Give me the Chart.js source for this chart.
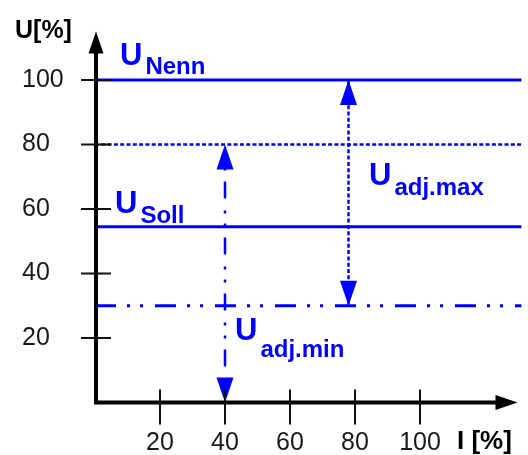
<!DOCTYPE html>
<html>
<head>
<meta charset="utf-8">
<script src="https://cdn.jsdelivr.net/npm/chart.js"></script>
<style>
  html, body { margin: 0; padding: 0; background: #fff; }
  #wrap { width: 528px; height: 455px; }
</style>
</head>
<body>
<div id="wrap"><canvas id="chart" width="528" height="455"></canvas></div>
<script>
// Achsen
const xTicks = [20, 40, 60, 80, 100];
const yTicks = [20, 40, 60, 80, 100];
const xMax = 130;
const yMax = 115;
const lineEnd = 131.2;

// waagerechte Linien: U_Nenn, obere Grenze, U_Soll, untere Grenze
const levelNames = ['Nenn', 'max', 'Soll', 'min'];
const levelValues = [100, 80, 54.5, 30];

// senkrechte Pfeile (U_adj.min, U_adj.max)
const spanNames = ['adj.min', 'adj.max'];
const spanX = [40, 78];
const spanTop = [80, 100];
const spanBottom = [0, 30];

const BLUE = '#0000ff';
const FONT = '"Liberation Sans", Arial, sans-serif';

const DOTTED = [4, 2.3];
const DASHDOT = [21, 11, 3, 10, 3, 12];
const DASHDOT_V = [17, 12, 3, 10, 3, 11];

// Linienstile pro Niveau
const levelStyle = [
    { dash: [], width: 3 },
    { dash: DOTTED, width: 2.5 },
    { dash: [], width: 3 },
    { dash: DASHDOT, width: 3 }
];
const spanStyle = [
    { dash: DASHDOT_V, width: 2.5, offset: 19 },
    { dash: DOTTED, width: 2.5, offset: 0 }
];

function buildDatasets() {
    const sets = [];
    levelValues.forEach((v, i) => {
        sets.push({
            label: levelNames[i],
            data: [{ x: 0, y: v }, { x: lineEnd, y: v }],
            borderColor: BLUE,
            borderWidth: levelStyle[i].width,
            borderDash: levelStyle[i].dash,
            pointRadius: 0,
            clip: false
        });
    });
    spanX.forEach((x, i) => {
        sets.push({
            label: spanNames[i],
            data: [{ x: x, y: spanTop[i] }, { x: x, y: spanBottom[i] }],
            borderColor: BLUE,
            borderWidth: spanStyle[i].width,
            borderDash: spanStyle[i].dash,
            borderDashOffset: spanStyle[i].offset,
            pointRadius: 0,
            clip: false
        });
    });
    return sets;
}

function arrowHead(ctx, x, y, dir, len, half, color) {
    // dir: 'up' | 'down' | 'right'
    ctx.save();
    ctx.fillStyle = color;
    ctx.setLineDash([]);
    ctx.beginPath();
    if (dir === 'up') {
        ctx.moveTo(x, y);
        ctx.lineTo(x - half, y + len);
        ctx.lineTo(x + half, y + len);
    } else if (dir === 'down') {
        ctx.moveTo(x, y);
        ctx.lineTo(x - half, y - len);
        ctx.lineTo(x + half, y - len);
    } else {
        ctx.moveTo(x, y);
        ctx.lineTo(x - len, y - half);
        ctx.lineTo(x - len, y + half);
    }
    ctx.closePath();
    ctx.fill();
    ctx.restore();
}

function subLabel(ctx, main, sub, x, y, subY) {
    ctx.font = 'bold 31px ' + FONT;
    ctx.fillText(main, x, y);
    const w = ctx.measureText(main).width;
    ctx.font = 'bold 24px ' + FONT;
    ctx.fillText(sub, x + w + 3, subY);
}

const axisPlugin = {
    id: 'axisPlugin',
    afterDatasetsDraw(chart) {
        const ctx = chart.ctx;
        const xs = chart.scales.x;
        const ys = chart.scales.y;
        const x0 = xs.getPixelForValue(0) + 1;
        const y0 = ys.getPixelForValue(0);
        const xEnd = xs.getPixelForValue(xMax);
        const yEnd = ys.getPixelForValue(yMax);

        ctx.save();
        // Pfeilspitzen der senkrechten Linien
        spanX.forEach((v, i) => {
            const px = xs.getPixelForValue(v);
            arrowHead(ctx, px, ys.getPixelForValue(spanTop[i]), 'up', 25, 8.5, BLUE);
            arrowHead(ctx, px, ys.getPixelForValue(spanBottom[i]), 'down', 25, 8.5, BLUE);
        });

        // Achsen
        ctx.strokeStyle = '#000';
        ctx.lineWidth = 4;
        ctx.lineJoin = 'miter';
        ctx.setLineDash([]);
        ctx.beginPath();
        ctx.moveTo(x0, yEnd + 20);
        ctx.lineTo(x0, y0);
        ctx.lineTo(xEnd - 20, y0);
        ctx.stroke();
        arrowHead(ctx, x0, yEnd, 'up', 22, 7.5, '#000');
        arrowHead(ctx, xEnd, y0, 'right', 22, 7.5, '#000');

        // Teilstriche
        ctx.strokeStyle = '#111';
        ctx.lineWidth = 2;
        ctx.beginPath();
        yTicks.forEach(v => {
            const py = ys.getPixelForValue(v);
            ctx.moveTo(x0 - 15, py);
            ctx.lineTo(x0 + 15, py);
        });
        xTicks.forEach(v => {
            const px = xs.getPixelForValue(v);
            ctx.moveTo(px, y0 - 13);
            ctx.lineTo(px, y0 + 22);
        });
        ctx.stroke();

        // Achsenbeschriftung
        ctx.fillStyle = '#000';
        ctx.textBaseline = 'alphabetic';
        ctx.textAlign = 'left';
        ctx.font = 'bold 25px ' + FONT;
        ctx.fillText('U[%]', 15, 38);
        ctx.font = 'bold 26px ' + FONT;
        ctx.fillText('I [%]', 457, 449);

        // blaue Bezeichnungen
        ctx.fillStyle = BLUE;
        subLabel(ctx, 'U', 'Nenn', 120, 65, 74);
        subLabel(ctx, 'U', 'Soll', 115, 213, 223);
        subLabel(ctx, 'U', 'adj.max', 369, 185, 195);
        subLabel(ctx, 'U', 'adj.min', 235, 340, 357);
        ctx.restore();
    }
};

new Chart(document.getElementById('chart'), {
    type: 'line',
    data: { datasets: buildDatasets() },
    options: {
        responsive: false,
        animation: false,
        devicePixelRatio: 1,
        layout: { padding: { left: 22, top: 31.6, right: 10.5, bottom: 0 } },
        plugins: { legend: { display: false }, tooltip: { enabled: false } },
        scales: {
            x: {
                type: 'linear',
                min: 0,
                max: xMax,
                grid: { display: false, drawTicks: false },
                border: { display: false },
                ticks: {
                    font: { size: 25, family: FONT },
                    color: '#1a1a1a',
                    padding: 26,
                    autoSkip: false,
                    maxRotation: 0
                },
                afterBuildTicks: s => { s.ticks = xTicks.map(v => ({ value: v })); },
                afterFit: s => { s.height = 52.5; }
            },
            y: {
                type: 'linear',
                min: 0,
                max: yMax,
                grid: { display: false, drawTicks: false },
                border: { display: false },
                ticks: {
                    font: { size: 25, family: FONT },
                    color: '#1a1a1a',
                    crossAlign: 'far',
                    autoSkip: false
                },
                afterBuildTicks: s => { s.ticks = yTicks.map(v => ({ value: v })); },
                afterFit: s => { s.width = 73; }
            }
        }
    },
    plugins: [axisPlugin]
});
</script>
</body>
</html>
